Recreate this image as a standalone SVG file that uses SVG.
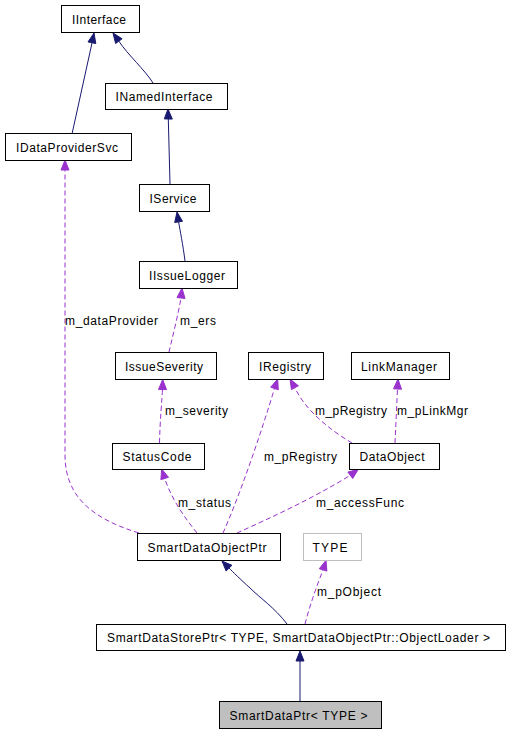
<svg xmlns="http://www.w3.org/2000/svg" width="509" height="733" viewBox="0 0 509 733">
<style>
.n rect{fill:#fff;stroke:#000;stroke-width:1}
.n text,.lbl{font-family:"Liberation Sans",Arial,sans-serif;font-size:12px;fill:#000}
.n text{text-anchor:middle}
.inh{fill:none;stroke:#191970;stroke-width:1}
.ah{fill:#191970;stroke:#191970}
.use{fill:none;stroke:#9a32cd;stroke-width:1;stroke-dasharray:5,3}
.ap{fill:#9a32cd;stroke:#9a32cd}
</style>
<rect width="509" height="733" fill="#fff"/>
<g id="connectors">
<path class="inh" d="M72,134 L92,43"/>
<polygon class="ah" points="94,33 95.8,43.6 88,41.9"/>
<path class="inh" d="M153,83 C145,70 128,55 118.8,41.1"/>
<polygon class="ah" points="113,33 122.1,38.8 115.6,43.5"/>
<path class="inh" d="M170,184 L168.3,119"/>
<polygon class="ah" points="168,109 172.3,119.1 164.3,118.9"/>
<path class="inh" d="M185,261 C183,245 180,230 178.6,221.9"/>
<polygon class="ah" points="177,212 182.5,221.3 174.7,222.5"/>
<path class="inh" d="M287,624 C275,608 260,598 250,588 C240,579 233,572 229,568"/>
<polygon class="ah" points="222,561 231.9,565.3 226.1,571"/>
<path class="inh" d="M300,701 L300,661"/>
<polygon class="ah" points="300,651 304,661 296,661"/>

<path class="use" d="M139,533 C90,518 65,495 65,455 L65,170"/>
<polygon class="ap" points="65,160 69,170 61,170"/>
<path class="use" d="M169,352 C173,335 178,315 181,298"/>
<polygon class="ap" points="182,288 185,298.5 177,297.5"/>
<path class="use" d="M159.5,443 C160,420 162,400 162.5,389.5"/>
<polygon class="ap" points="162.7,379.5 166.5,389.6 158.5,389.4"/>
<path class="use" d="M197,533 C185,518 172,500 164.7,478.5"/>
<polygon class="ap" points="161.7,469 168.5,477.3 160.9,479.7"/>
<path class="use" d="M223,533 C240,495 262,430 274.5,388.5"/>
<polygon class="ap" points="277.7,379 278.3,389.8 270.7,387.2"/>
<path class="use" d="M352,443 C330,430 305,410 294.9,387.7"/>
<polygon class="ap" points="290,379 298.4,385.8 291.4,389.6"/>
<path class="use" d="M395,443 L397.5,389"/>
<polygon class="ap" points="398,379 401.5,389.2 393.5,388.8"/>
<path class="use" d="M237,533 C270,518 310,500 350.3,475.3"/>
<polygon class="ap" points="358.3,469.3 352.7,478.5 347.9,472.1"/>
<path class="use" d="M305,624 C310,605 317,585 323.1,569.9"/>
<polygon class="ap" points="326,560.3 326.9,571.1 319.3,568.7"/>

<text class="lbl" x="65" y="325" textLength="93">m_dataProvider</text>
<text class="lbl" x="180" y="325" textLength="36">m_ers</text>
<text class="lbl" x="165" y="415" textLength="63">m_severity</text>
<text class="lbl" x="315" y="415" textLength="72">m_pRegistry</text>
<text class="lbl" x="397" y="415" textLength="71">m_pLinkMgr</text>
<text class="lbl" x="264" y="461" textLength="73">m_pRegistry</text>
<text class="lbl" x="316" y="507" textLength="88">m_accessFunc</text>
<text class="lbl" x="178" y="507" textLength="53">m_status</text>
<text class="lbl" x="317" y="596" textLength="64">m_pObject</text>
</g>
<g id="IInterface" class="n"><rect x="61.5" y="5.5" width="78" height="27"/><text x="99" y="23.5" textLength="54">IInterface</text></g>
<g id="INamedInterface" class="n"><rect x="105.5" y="83.5" width="122" height="26"/><text x="164" y="101" textLength="97">INamedInterface</text></g>
<g id="IDataProviderSvc" class="n"><rect x="5.5" y="133.5" width="126" height="27"/><text x="67" y="151.5" textLength="102">IDataProviderSvc</text></g>
<g id="IService" class="n"><rect x="139.5" y="184.5" width="70" height="27"/><text x="173" y="202.5" textLength="47">IService</text></g>
<g id="IIssueLogger" class="n"><rect x="139.5" y="261.5" width="98" height="27"/><text x="187" y="279.5" textLength="76">IIssueLogger</text></g>
<g id="IssueSeverity" class="n"><rect x="115.5" y="352.5" width="101" height="27"/><text x="164" y="370.5" textLength="78">IssueSeverity</text></g>
<g id="IRegistry" class="n"><rect x="248.5" y="352.5" width="75" height="27"/><text x="285" y="370.5" textLength="52">IRegistry</text></g>
<g id="LinkManager" class="n"><rect x="351.5" y="352.5" width="98" height="27"/><text x="399" y="370.5" textLength="76">LinkManager</text></g>
<g id="StatusCode" class="n"><rect x="112.5" y="443.5" width="92" height="26"/><text x="157" y="461" textLength="69">StatusCode</text></g>
<g id="DataObject" class="n"><rect x="349.5" y="443.5" width="90" height="26"/><text x="392" y="461" textLength="65">DataObject</text></g>
<g id="SmartDataObjectPtr" class="n"><rect x="137.5" y="533.5" width="143" height="27"/><text x="207" y="551.5" textLength="119">SmartDataObjectPtr</text></g>
<g id="TYPE" class="n"><rect x="303.5" y="533.5" width="58" height="27" style="stroke:#bfbfbf"/><text x="330" y="551.5" textLength="35">TYPE</text></g>
<g id="SmartDataStorePtr" class="n"><rect x="96.5" y="624.5" width="409" height="26"/><text x="298.5" y="642" textLength="383">SmartDataStorePtr&lt; TYPE, SmartDataObjectPtr::ObjectLoader &gt;</text></g>
<g id="SmartDataPtr" class="n"><rect x="219.5" y="701.5" width="162" height="27" style="fill:#bfbfbf"/><text x="298.5" y="719.5" textLength="138">SmartDataPtr&lt; TYPE &gt;</text></g>
</svg>
